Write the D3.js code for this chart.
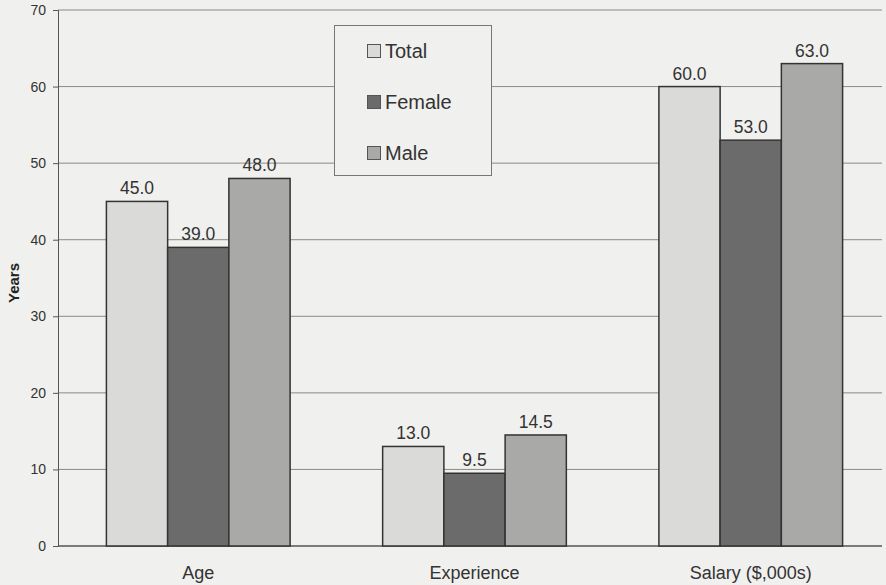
<!DOCTYPE html>
<html><head><meta charset="utf-8">
<script src="https://cdn.jsdelivr.net/npm/d3@7/dist/d3.min.js"></script>
<style>body{margin:0;background:#f0f0ee;} svg{display:block;font-family:Arial,"Liberation Sans",sans-serif;}</style>
</head><body>
<script>
const categories = ["Age", "Experience", "Salary ($,000s)"];
const seriesNames = ["Total", "Female", "Male"];
const totalValues = [45.0, 13.0, 60.0];
const femaleValues = [39.0, 9.5, 53.0];
const maleValues = [48.0, 14.5, 63.0];
const yTicks = [0, 10, 20, 30, 40, 50, 60, 70];
const colors = ["#dadad8", "#6b6b6b", "#a9a9a7"];

(function () {
const W = 886, H = 585;
const svg = d3.select("body").append("svg").attr("width", W).attr("height", H);
svg.append("rect").attr("width", W).attr("height", H).attr("fill", "#f0f0ee");

const pL = 58, pT = 10, pB = 546;
const y = d3.scaleLinear().domain([0, 70]).range([pB, pT]);
const x0 = d3.scaleBand().domain(categories).range([pL + 2, 889]).paddingInner(0.335).paddingOuter(0.168);
const x1 = d3.scaleBand().domain(seriesNames).range([0, x0.bandwidth()]);

// gridlines
svg.append("g").selectAll("line").data(yTicks.filter(d => d > 0)).join("line")
  .attr("x1", pL).attr("x2", 882).attr("y1", d => y(d)).attr("y2", d => y(d))
  .attr("stroke", "#8a8a8a").attr("stroke-width", 1);

// y axis
const yAxis = d3.axisLeft(y).tickValues(yTicks).tickSize(5).tickPadding(7).tickFormat(d3.format("d"));
const ga = svg.append("g").attr("transform", `translate(${pL},0)`).call(yAxis);
ga.select(".domain").attr("stroke", "#555");
ga.selectAll(".tick line").attr("stroke", "#555");
ga.selectAll("text").attr("fill", "#333").attr("font-size", 14).attr("font-family", "Arial, Liberation Sans, sans-serif");

// x axis baseline
svg.append("line").attr("x1", pL).attr("x2", 882).attr("y1", pB).attr("y2", pB).attr("stroke", "#555").attr("stroke-width", 1.5);

const data = categories.map((c, i) => ({cat: c, vals: [totalValues[i], femaleValues[i], maleValues[i]]}));

const groups = svg.append("g").selectAll("g").data(data).join("g")
  .attr("transform", d => `translate(${x0(d.cat)},0)`);

groups.selectAll("rect").data(d => d.vals.map((v, j) => ({name: seriesNames[j], v, j}))).join("rect")
  .attr("x", d => x1(d.name)).attr("width", x1.bandwidth())
  .attr("y", d => y(d.v)).attr("height", d => pB - y(d.v))
  .attr("fill", d => colors[d.j]).attr("stroke", "#333").attr("stroke-width", 1.5);

groups.selectAll("text").data(d => d.vals.map((v, j) => ({name: seriesNames[j], v, j}))).join("text")
  .attr("x", d => x1(d.name) + x1.bandwidth() / 2).attr("y", d => y(d.v) - 7)
  .attr("text-anchor", "middle").attr("font-size", 17.5).attr("fill", "#333")
  .text(d => d3.format(".1f")(d.v));

// category labels
svg.append("g").selectAll("text").data(categories).join("text")
  .attr("x", d => x0(d) + x0.bandwidth() / 2).attr("y", 579)
  .attr("text-anchor", "middle").attr("font-size", 18).attr("fill", "#333").text(d => d);

// y title
svg.append("text").attr("transform", "translate(19,283) rotate(-90)")
  .attr("text-anchor", "middle").attr("font-size", 15).attr("font-weight", "bold").attr("fill", "#222").text("Years");

// legend
const lg = svg.append("g");
lg.append("rect").attr("x", 334.5).attr("y", 25.5).attr("width", 157).attr("height", 150)
  .attr("fill", "#f0f0ee").attr("stroke", "#777").attr("stroke-width", 1);
const ly = d3.scalePoint().domain(seriesNames).range([51, 153]);
seriesNames.forEach((n, j) => {
  lg.append("rect").attr("x", 367.5).attr("y", ly(n) - 6.5).attr("width", 13).attr("height", 13)
    .attr("fill", colors[j]).attr("stroke", "#555").attr("stroke-width", 1);
  lg.append("text").attr("x", 385).attr("y", ly(n) + 7).attr("font-size", 20).attr("fill", "#333").text(n);
});
})();
</script>
</body></html>
